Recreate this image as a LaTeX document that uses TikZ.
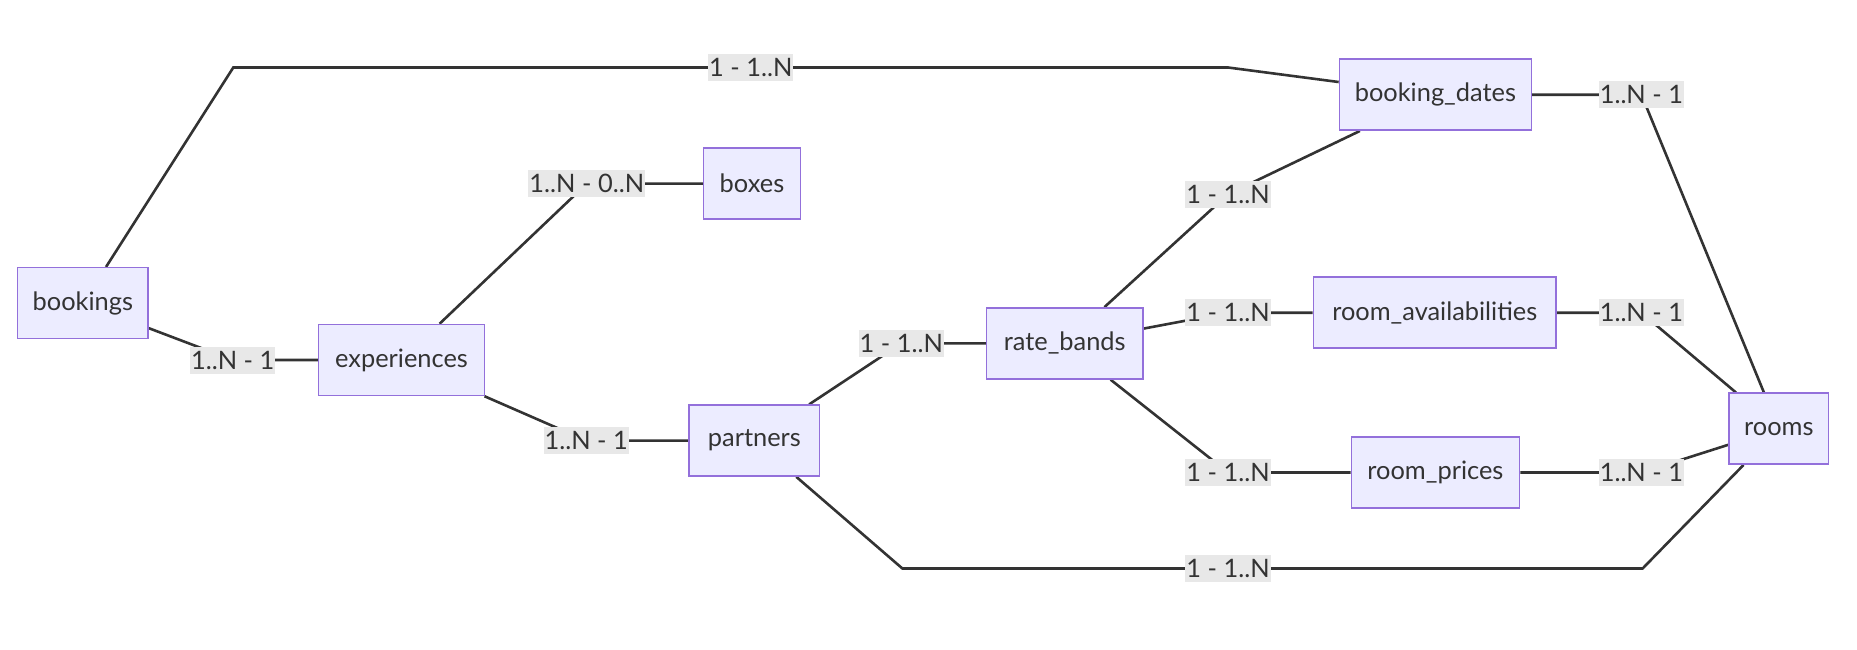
\documentclass[tikz,border=0pt]{standalone}
\usepackage{fontspec}
\setmainfont{Lato}
\usetikzlibrary{backgrounds}
\definecolor{nodefill}{HTML}{ECECFF}
\definecolor{nodeborder}{HTML}{9370DB}
\definecolor{linecol}{HTML}{333333}
\definecolor{labelbg}{HTML}{E8E8E8}
\begin{document}
\begin{tikzpicture}[x=0.5pt,y=-0.5pt,
  entity/.style={draw=nodeborder, fill=nodefill, line width=0.75pt, rectangle,
    minimum height=35.5pt, inner sep=0pt, text=linecol,
    font=\fontsize{12.7pt}{14pt}\selectfont},
  rel/.style={fill=labelbg, inner sep=0pt, inner xsep=0.5pt, minimum height=13.5pt,
    text=linecol, font=\fontsize{12.7pt}{14pt}\selectfont},
  conn/.style={draw=linecol, line width=1.3pt}]
\useasboundingbox (0,0) rectangle (1857,649);

% entities
\node[entity, minimum width=65.2pt] (bookings) at (82.9,303.2) {bookings};
\node[entity, minimum width=82.9pt] (experiences) at (401.5,360) {experiences};
\node[entity, minimum width=48.5pt] (boxes) at (752,183.6) {boxes};
\node[entity, minimum width=65.2pt] (partners) at (754.4,440.6) {partners};
\node[entity, minimum width=78.2pt] (rate) at (1064.7,343.4) {rate\_bands};
\node[entity, minimum width=96pt] (bdates) at (1435.4,94.7) {booking\_dates};
\node[entity, minimum width=121.4pt] (ravail) at (1434.8,312.7) {room\_availabilities};
\node[entity, minimum width=84.1pt] (rprices) at (1435.4,472.5) {room\_prices};
\node[entity, minimum width=49.8pt] (rooms) at (1778.8,428.7) {rooms};

% relation labels
\node[rel] (lbbd) at (750.8,67.5) {1 - 1..N};
\node[rel] (lbe) at (232.7,360) {1..N - 1};
\node[rel] (leb) at (586.8,183.6) {1..N - 0..N};
\node[rel] (lep) at (586.2,440.6) {1..N - 1};
\node[rel] (lpr) at (901.3,343.4) {1 - 1..N};
\node[rel] (lpro) at (1228.1,568.5) {1 - 1..N};
\node[rel] (lrbd) at (1228.1,194.2) {1 - 1..N};
\node[rel] (lra) at (1228.1,312.7) {1 - 1..N};
\node[rel] (lrp) at (1228.1,472.5) {1 - 1..N};
\node[rel] (lbdr) at (1641.4,94.7) {1..N - 1};
\node[rel] (lrar) at (1641.4,312.7) {1..N - 1};
\node[rel] (lrpr) at (1641.4,472.5) {1..N - 1};

% bend points
\coordinate (b1) at (233.3,67.5);
\coordinate (b2) at (1228.1,67.5);
\coordinate (b3) at (902.4,568.5);
\coordinate (b4) at (1642.6,568.5);

\begin{pgfonlayer}{background}
\draw[conn] (bookings) -- (b1) -- (lbbd.center) -- (b2) -- (bdates);
\draw[conn] (bookings) -- (lbe.center) -- (experiences);
\draw[conn] (experiences) -- (leb.center) -- (boxes);
\draw[conn] (experiences) -- (lep.center) -- (partners);
\draw[conn] (partners) -- (lpr.center) -- (rate);
\draw[conn] (partners) -- (b3) -- (lpro.center) -- (b4) -- (rooms);
\draw[conn] (rate) -- (lrbd.center) -- (bdates);
\draw[conn] (rate) -- (lra.center) -- (ravail);
\draw[conn] (rate) -- (lrp.center) -- (rprices);
\draw[conn] (bdates) -- (lbdr.center) -- (rooms);
\draw[conn] (ravail) -- (lrar.center) -- (rooms);
\draw[conn] (rprices) -- (lrpr.center) -- (rooms);
\end{pgfonlayer}
\end{tikzpicture}
\end{document}
